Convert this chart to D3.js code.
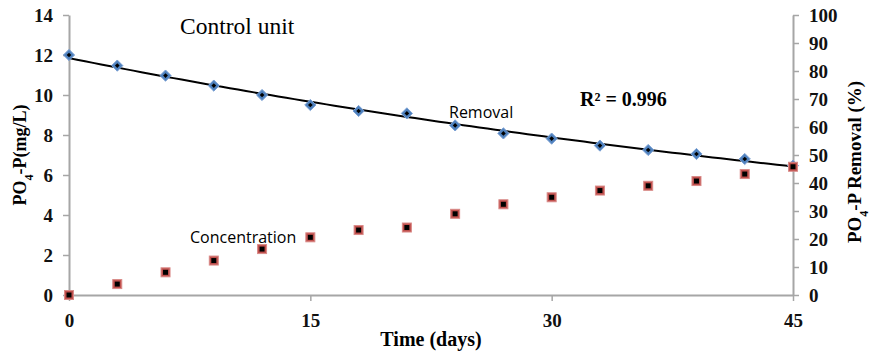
<!DOCTYPE html>
<html>
<head>
<meta charset="utf-8">
<script src="https://cdn.jsdelivr.net/npm/d3@7"></script>
<style>
  body { margin: 0; background: #fff; }
  svg { display: block; }
</style>
</head>
<body>
<script>
// data
var days = [0, 3, 6, 9, 12, 15, 18, 21, 24, 27, 30, 33, 36, 39, 42, 45];
var concentration = [12, 11.47, 10.97, 10.47, 10.0, 9.5, 9.2, 9.08, 8.48, 8.08, 7.82, 7.47, 7.25, 7.05, 6.8, 6.47];
var removal = [0, 3.9, 8.1, 12.3, 16.4, 20.6, 23.2, 24.1, 29.0, 32.4, 34.9, 37.3, 39.0, 40.7, 43.2, 45.8];
var xTicks = [0, 15, 30, 45];
var leftTicks = [0, 2, 4, 6, 8, 10, 12, 14];
var rightTicks = [0, 10, 20, 30, 40, 50, 60, 70, 80, 90, 100];

var svgWidth = 871;
var svgHeight = 358;

var chartMargin = { top: 15, right: 78, bottom: 63, left: 69 };
var chartWidth = svgWidth - chartMargin.left - chartMargin.right;
var chartHeight = svgHeight - chartMargin.top - chartMargin.bottom;

var svg = d3.select("body")
  .append("svg")
  .attr("width", svgWidth)
  .attr("height", svgHeight);

var chartGroup = svg.append("g")
  .attr("transform", `translate(${chartMargin.left}, ${chartMargin.top})`);

var xScale = d3.scaleLinear().domain([0, 45]).range([0, chartWidth]);
var yLeft = d3.scaleLinear().domain([0, 14]).range([chartHeight, 0]);
var yRight = d3.scaleLinear().domain([0, 100]).range([chartHeight, 0]);

var serif = "'Liberation Serif', 'Times New Roman', serif";
var sans = "'Open Sans', 'Liberation Sans', sans-serif";
var axisColor = "#a6a6a6";

// axes
var leftAxis = d3.axisLeft(yLeft).tickValues(leftTicks).tickSizeInner(6).tickSizeOuter(0).tickPadding(10);
var rightAxis = d3.axisRight(yRight).tickValues(rightTicks).tickSizeInner(6).tickSizeOuter(0).tickPadding(10);
var bottomAxis = d3.axisBottom(xScale).tickValues(xTicks).tickSizeInner(6).tickSizeOuter(0).tickPadding(10);

function styleAxis(g) {
  g.select(".domain").attr("stroke", axisColor).attr("stroke-width", 2);
  g.selectAll(".tick line").attr("stroke", axisColor).attr("stroke-width", 1.5);
  g.selectAll("text")
    .attr("fill", "#111")
    .style("font-family", serif)
    .style("font-weight", "bold")
    .style("font-size", "19px");
}

chartGroup.append("g").call(leftAxis).call(styleAxis);
chartGroup.append("g")
  .attr("transform", `translate(${chartWidth}, 0)`)
  .call(rightAxis).call(styleAxis);
chartGroup.append("g")
  .attr("transform", `translate(0, ${chartHeight})`)
  .call(bottomAxis).call(styleAxis)
  .selectAll("text").attr("dy", "0.85em");

// exponential trend line (least squares on ln y), like the spreadsheet one
var lnC = concentration.map(c => Math.log(c));
var mx = d3.mean(days), my = d3.mean(lnC);
var k = d3.sum(days, (d, i) => (d - mx) * (lnC[i] - my)) / d3.sum(days, d => (d - mx) * (d - mx));
var a = Math.exp(my - k * mx);

var trendLine = d3.line()
  .x(d => xScale(d))
  .y(d => yLeft(a * Math.exp(k * d)));

chartGroup.append("path")
  .datum(d3.range(0, 45.01, 0.5))
  .attr("d", trendLine)
  .attr("fill", "none")
  .attr("stroke", "#000")
  .attr("stroke-width", 2);

// diamonds
chartGroup.selectAll(".conc")
  .data(days)
  .enter()
  .append("path")
  .attr("class", "conc")
  .attr("transform", (d, i) => `translate(${xScale(d)}, ${yLeft(concentration[i])})`)
  .attr("d", d3.symbol().type(d3.symbolDiamond2).size(80)())
  .attr("fill", "#4f81bd")
  .attr("stroke", "#7aa0d4")
  .attr("stroke-width", 1);

chartGroup.selectAll(".concdot")
  .data(days)
  .enter()
  .append("path")
  .attr("class", "concdot")
  .attr("transform", (d, i) => `translate(${xScale(d)}, ${yLeft(concentration[i])})`)
  .attr("d", d3.symbol().type(d3.symbolDiamond2).size(14)())
  .attr("fill", "#000");

// squares
chartGroup.selectAll(".rem")
  .data(days)
  .enter()
  .append("rect")
  .attr("class", "rem")
  .attr("x", d => xScale(d) - 4.5)
  .attr("y", (d, i) => yRight(removal[i]) - 4.5)
  .attr("width", 9)
  .attr("height", 9)
  .attr("fill", "#c0504d")
  .attr("stroke", "#d98a88")
  .attr("stroke-width", 1);

chartGroup.selectAll(".remdot")
  .data(days)
  .enter()
  .append("rect")
  .attr("class", "remdot")
  .attr("x", d => xScale(d) - 2.5)
  .attr("y", (d, i) => yRight(removal[i]) - 2.5)
  .attr("width", 5)
  .attr("height", 5)
  .attr("fill", "#000");

// labels
svg.append("text")
  .attr("x", 180).attr("y", 34)
  .style("font-family", serif).style("font-size", "23.5px")
  .text("Control unit");

svg.append("text")
  .attr("x", 580).attr("y", 106)
  .style("font-family", serif).style("font-size", "20px").style("font-weight", "bold")
  .text("R² = 0.996");

svg.append("text")
  .attr("x", 449).attr("y", 118)
  .style("font-family", sans).style("font-size", "16px")
  .text("Removal");

svg.append("text")
  .attr("x", 190).attr("y", 243)
  .style("font-family", sans).style("font-size", "16px")
  .text("Concentration");

svg.append("text")
  .attr("x", chartMargin.left + chartWidth / 2)
  .attr("y", 346)
  .attr("text-anchor", "middle")
  .style("font-family", serif).style("font-size", "20px").style("font-weight", "bold")
  .text("Time (days)");

var leftTitle = svg.append("text")
  .attr("transform", "translate(26, 155) rotate(-90)")
  .attr("text-anchor", "middle")
  .style("font-family", serif).style("font-size", "18px").style("font-weight", "bold");
leftTitle.append("tspan").text("PO");
leftTitle.append("tspan").attr("baseline-shift", "sub").style("font-size", "12px").text("4");
leftTitle.append("tspan").text("-P(mg/L)");

var rightTitle = svg.append("text")
  .attr("transform", "translate(861, 162) rotate(-90)")
  .attr("text-anchor", "middle")
  .style("font-family", serif).style("font-size", "19px").style("font-weight", "bold");
rightTitle.append("tspan").text("PO");
rightTitle.append("tspan").attr("baseline-shift", "sub").style("font-size", "12px").text("4");
rightTitle.append("tspan").text("-P Removal (%)");
</script>
</body>
</html>
